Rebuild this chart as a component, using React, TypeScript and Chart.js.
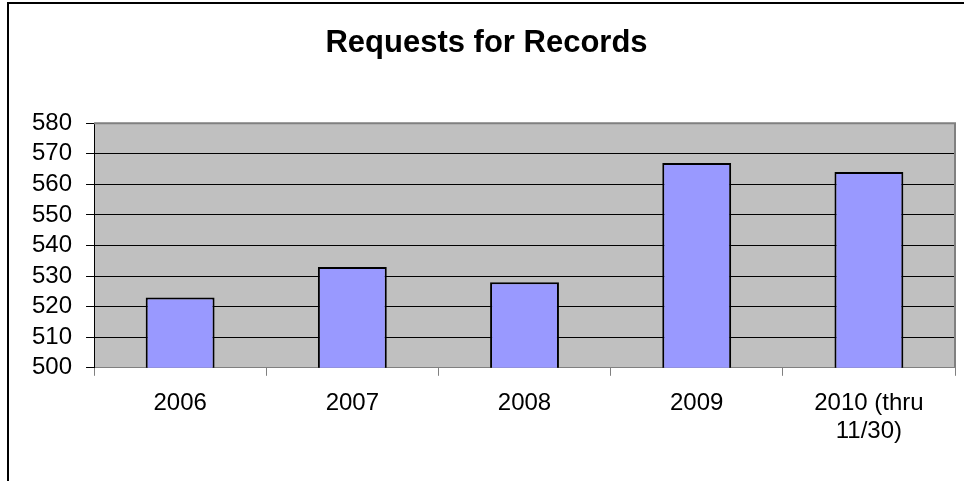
import React, { useEffect, useRef } from "react";
import { Chart, registerables } from "chart.js";

Chart.register(...registerables);

const categories: (string | string[])[] = ["2006", "2007", "2008", "2009", ["2010 (thru", "11/30)"]];
const requests: number[] = [523, 533, 528, 567, 564];
const yMin = 500;
const yMax = 580;
const yStep = 10;
const title = "Requests for Records";

const FONT = "'Liberation Sans', Arial, sans-serif";

const plotBackground = {
  id: "plotBackground",
  beforeDraw(chart: any) {
    const { ctx, chartArea } = chart;
    if (!chartArea) return;
    ctx.save();
    ctx.fillStyle = "#C0C0C0";
    ctx.fillRect(chartArea.left, chartArea.top, chartArea.right - chartArea.left, chartArea.bottom - chartArea.top);
    ctx.restore();
  },
  afterDatasetsDraw(chart: any) {
    const { ctx, chartArea } = chart;
    if (!chartArea) return;
    ctx.save();
    ctx.strokeStyle = "#808080";
    ctx.lineWidth = 2;
    ctx.beginPath();
    ctx.moveTo(chartArea.left, chartArea.top);
    ctx.lineTo(chartArea.right, chartArea.top);
    ctx.lineTo(chartArea.right, chartArea.bottom);
    ctx.stroke();
    ctx.restore();
  },
};

export default function App() {
  const canvasRef = useRef<HTMLCanvasElement | null>(null);

  useEffect(() => {
    if (!canvasRef.current) return;
    const chart = new Chart(canvasRef.current, {
      type: "bar",
      data: {
        labels: categories as any,
        datasets: [
          {
            label: "Requests",
            data: requests,
            backgroundColor: "#9999FF",
            borderColor: "#000000",
            borderWidth: 2,
            borderSkipped: false,
            barPercentage: 0.4,
            categoryPercentage: 1,
          },
        ],
      },
      options: {
        responsive: false,
        animation: false,
        devicePixelRatio: 1,
        layout: { padding: { left: 18, right: 9, top: 0, bottom: 22 } },
        plugins: {
          legend: { display: false },
          tooltip: { enabled: false },
          title: {
            display: true,
            text: title,
            color: "#000000",
            font: { family: FONT, size: 31, weight: "bold", lineHeight: 1.2 },
            padding: { top: 25, bottom: 61 },
          },
        },
        scales: {
          x: {
            offset: true,
            grid: {
              offset: true,
              drawOnChartArea: false,
              drawTicks: true,
              tickLength: 8,
              color: "#808080",
              tickColor: "#808080",
            },
            border: { display: true, color: "#808080", width: 1 },
            ticks: {
              color: "#000000",
              padding: 14,
              maxRotation: 0,
              autoSkip: false,
              font: { family: FONT, size: 24, lineHeight: 1.15 },
            },
          },
          y: {
            min: yMin,
            max: yMax,
            grid: {
              color: (c: any) => (c.tick && c.tick.value === yMax ? "rgba(0,0,0,0)" : "#000000"),
              tickColor: "#000000",
              tickLength: 8,
              lineWidth: 1,
            },
            border: { display: true, color: "#000000", width: 1 },
            ticks: {
              stepSize: yStep,
              autoSkip: false,
              color: "#000000",
              padding: 14,
              font: { family: FONT, size: 24 },
            },
          },
        },
      },
      plugins: [plotBackground],
    });
    return () => chart.destroy();
  }, []);

  return (
    <div style={{ position: "fixed", left: 0, top: 0, width: 964, height: 481, background: "#fff" }}>
      <canvas ref={canvasRef} width={964} height={481} style={{ display: "block", width: 964, height: 481 }} />
      <div
        style={{
          position: "absolute",
          left: 7,
          top: 2,
          width: 957,
          height: 479,
          borderLeft: "2px solid #000",
          borderTop: "2px solid #000",
          boxSizing: "border-box",
          pointerEvents: "none",
        }}
      />
    </div>
  );
}
